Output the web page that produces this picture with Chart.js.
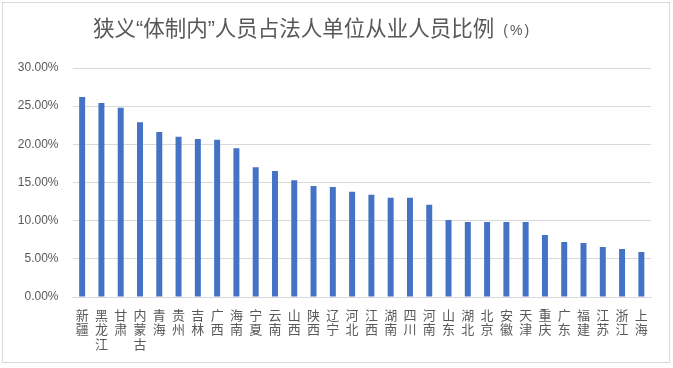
<!DOCTYPE html>
<html>
<head>
<meta charset="utf-8">
<script src="https://cdn.jsdelivr.net/npm/chart.js@4.4.1/dist/chart.umd.min.js"></script>
<style>
  html, body { margin: 0; padding: 0; background: #ffffff; }
  #wrap { position: relative; width: 673px; height: 368px; }
  #frame { position: absolute; left: 2px; top: 2px; width: 666px; height: 359px; border: 1px solid #d9d9d9; pointer-events: none; }
  canvas { position: absolute; left: 0; top: 0; }
</style>
</head>
<body>
<div id="wrap">
  <canvas id="c" width="673" height="368"></canvas>
  <div id="frame"></div>
</div>
<script>
const categories = ["新疆","黑龙江","甘肃","内蒙古","青海","贵州","吉林","广西","海南","宁夏","云南","山西","陕西","辽宁","河北","江西","湖南","四川","河南","山东","湖北","北京","安徽","天津","重庆","广东","福建","江苏","浙江","上海"];
const values = [26.2,25.4,24.8,22.9,21.6,21.0,20.7,20.6,19.5,17.0,16.5,15.3,14.55,14.4,13.8,13.4,13.0,13.0,12.1,10.1,9.83,9.83,9.83,9.83,8.13,7.2,7.08,6.56,6.29,5.9];
const yTicks = ["0.00%","5.00%","10.00%","15.00%","20.00%","25.00%","30.00%"];
const titleMain = "狭义“体制内”人员占法人单位从业人员比例";
const titleUnit = "(%)";

const titlePlugin = {
  id: 'twoFontTitle',
  afterDraw(chart) {
    const ctx = chart.ctx;
    ctx.save();
    ctx.fillStyle = '#595959';
    ctx.textBaseline = 'middle';
    ctx.textAlign = 'left';
    const f1 = '21.5px "Liberation Sans", "Noto Sans CJK SC"';
    const f2 = '14px "Liberation Sans", "Noto Sans CJK SC"';
    ctx.font = f1; const w1 = ctx.measureText(titleMain).width;
    ctx.font = f2; ctx.letterSpacing = '2px'; const w2 = ctx.measureText(titleUnit).width;
    ctx.letterSpacing = '0px';
    const gap = 9;
    const x = 93;
    ctx.font = f1; ctx.fillText(titleMain, x, 30);
    ctx.font = f2; ctx.letterSpacing = '2px';
    ctx.fillText(titleUnit, x + w1 + gap, 31);
    ctx.restore();
  }
};

new Chart(document.getElementById('c'), {
  type: 'bar',
  data: {
    labels: categories.map(s => s.split('')),
    datasets: [{
      data: values,
      backgroundColor: '#4472C4',
      borderWidth: 0,
      barPercentage: 0.62,
      categoryPercentage: 0.5
    }]
  },
  options: {
    responsive: false,
    animation: false,
    devicePixelRatio: 1,
    layout: { padding: { top: 68, right: 22, left: 0, bottom: 0 } },
    plugins: { legend: { display: false }, title: { display: false }, tooltip: { enabled: false } },
    scales: {
      x: {
        grid: { display: false, drawTicks: false },
        border: { display: true, color: '#d9d9d9', width: 1 },
        ticks: {
          autoSkip: false, maxRotation: 0, minRotation: 0,
          color: '#595959', padding: 11,
          font: { family: '"Noto Sans CJK SC"', size: 13, lineHeight: 1.1 }
        },
        afterFit(scale) { scale.height = 71; }
      },
      y: {
        min: 0, max: 30,
        grid: { color: '#d9d9d9', drawTicks: false, lineWidth: 1 },
        border: { display: false },
        ticks: {
          stepSize: 5, color: '#595959', padding: 14,
          font: { family: '"Liberation Sans"', size: 12 },
          callback: (v, i) => yTicks[i]
        },
        afterFit(scale) { scale.width = 72.5; }
      }
    }
  },
  plugins: [titlePlugin]
});
</script>
</body>
</html>
